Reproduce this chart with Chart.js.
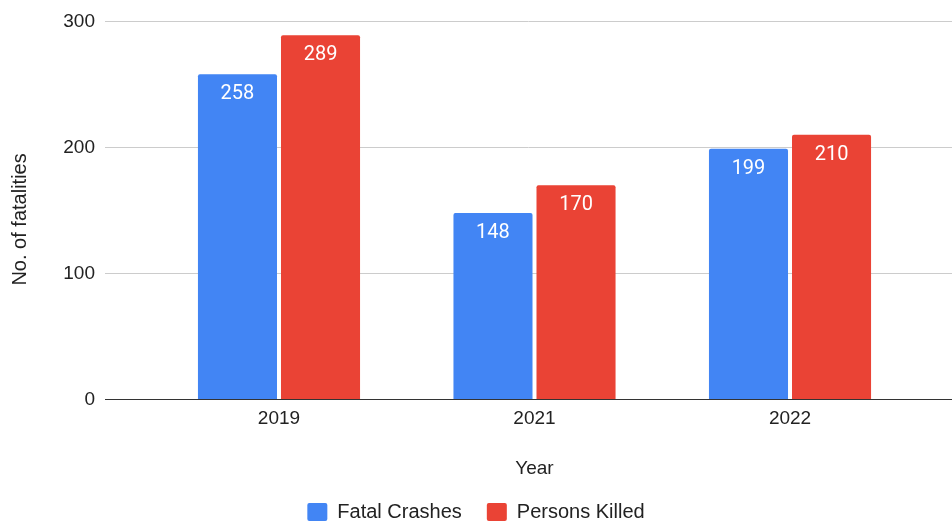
<!DOCTYPE html>
<html>
<head>
<meta charset="utf-8">
<script src="https://cdn.jsdelivr.net/npm/chart.js@4.4.0/dist/chart.umd.min.js"></script>
<style>
  html, body { margin: 0; padding: 0; background: #fff; }
  #wrap { width: 952px; height: 523px; position: relative; }
</style>
</head>
<body>
<div id="wrap"><canvas id="chart"></canvas></div>
<script>
const years = ["2019", "2021", "2022"];
const fatalCrashes = [258, 148, 199];
const personsKilled = [289, 170, 210];
const yTicks = [0, 100, 200, 300];

const BLUE = "#4285F4";
const RED = "#EA4335";
const FONT = "'Liberation Sans', Arial, sans-serif";

Chart.defaults.font.family = FONT;
Chart.defaults.color = "#222";

const toPoints = vals => vals.map((v, i) => ({ x: i, y: v }));

// white value text just under the top of each bar
const barValues = {
  id: "barValues",
  afterDatasetsDraw(chart) {
    const ctx = chart.ctx;
    ctx.save();
    ctx.fillStyle = "#fff";
    ctx.font = "400 20px Roboto, sans-serif";
    ctx.textAlign = "center";
    ctx.textBaseline = "alphabetic";
    chart.data.datasets.forEach((ds, di) => {
      chart.getDatasetMeta(di).data.forEach((bar, i) => {
        ctx.fillText(String(ds.data[i].y), bar.x, bar.y + 25);
      });
    });
    ctx.restore();
  }
};

// axis titles: "Year" sits under the middle year, y title a bit below centre
const axisTitles = {
  id: "axisTitles",
  afterDraw(chart) {
    const { ctx, chartArea, scales } = chart;
    ctx.save();
    ctx.fillStyle = "#222";
    ctx.textAlign = "center";
    ctx.textBaseline = "middle";
    ctx.font = "19px " + FONT;
    ctx.fillText("Year", scales.x.getPixelForValue(1), chartArea.bottom + 69);
    ctx.translate(20, (chartArea.top + chartArea.bottom) / 2 + 9);
    ctx.rotate(-Math.PI / 2);
    ctx.font = "20px " + FONT;
    ctx.fillText("No. of fatalities", 0, 0);
    ctx.restore();
  }
};

new Chart(document.getElementById("chart"), {
  type: "bar",
  data: {
    datasets: [
      { label: "Fatal Crashes", data: toPoints(fatalCrashes), backgroundColor: BLUE, borderWidth: 0,
        borderRadius: { topLeft: 2, topRight: 2 } },
      { label: "Persons Killed", data: toPoints(personsKilled), backgroundColor: RED, borderWidth: 0,
        borderRadius: { topLeft: 2, topRight: 2 } }
    ]
  },
  options: {
    responsive: true,
    maintainAspectRatio: false,
    animation: false,
    categoryPercentage: 0.65,
    barPercentage: 0.952,
    layout: { padding: { top: 20, right: 0, left: 0, bottom: -9 } },
    plugins: {
      tooltip: { enabled: false },
      legend: {
        position: "bottom",
        labels: {
          boxWidth: 20, boxHeight: 18, padding: 25,
          useBorderRadius: true, borderRadius: 2,
          font: { size: 20 }, color: "#222"
        }
      }
    },
    scales: {
      x: {
        type: "linear",
        offset: false,
        min: -0.681,
        max: 2.634,
        afterBuildTicks: s => { s.ticks = years.map((_, i) => ({ value: i })); },
        afterFit: s => { s.height = 77.5; },
        ticks: { callback: v => years[v], font: { size: 19 }, padding: 8, color: "#222" },
        grid: { display: false, drawTicks: false },
        border: { display: true, color: "#333", width: 1 }
      },
      y: {
        min: 0,
        max: 300,
        afterBuildTicks: s => { s.ticks = yTicks.map(v => ({ value: v })); },
        afterFit: s => { s.width = 105; },
        ticks: { font: { size: 19 }, padding: 10, color: "#222" },
        grid: { color: ctx => ctx.tick && ctx.tick.value === 0 ? "rgba(0,0,0,0)" : "#cccccc", drawTicks: false },
        border: { display: false }
      }
    }
  },
  plugins: [barValues, axisTitles]
});
</script>
</body>
</html>
